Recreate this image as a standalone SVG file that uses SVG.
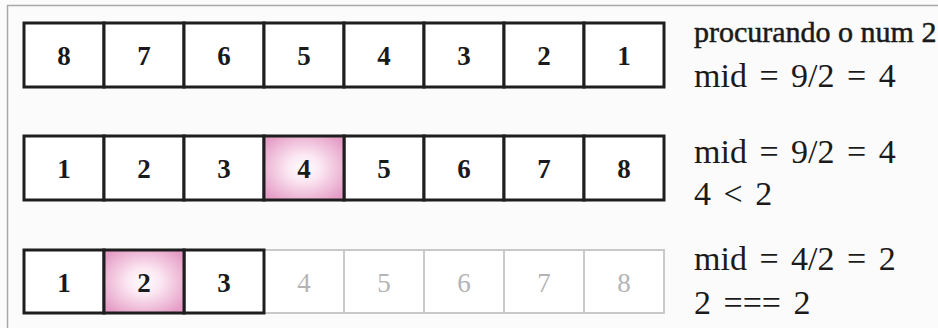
<svg xmlns="http://www.w3.org/2000/svg" width="938" height="328" viewBox="0 0 938 328">
<defs>
<radialGradient id="pink" cx="50%" cy="50%" r="62%">
<stop offset="0" stop-color="#ffffff"/>
<stop offset="0.35" stop-color="#fbe6f1"/>
<stop offset="1" stop-color="#e59cc6"/>
</radialGradient>
<style>
text{font-family:'Liberation Serif','Times New Roman',Times,serif}
.c{fill:#ffffff;stroke:#1e1e1e;stroke-width:3}
.h{fill:url(#pink);stroke:#1e1e1e;stroke-width:3}
.f{fill:#ffffff;stroke:#c9c9c9;stroke-width:2}
.n{font-size:27px;font-weight:bold;fill:#1a1a1a;text-anchor:middle}
.fn{font-size:27px;fill:#b4b4b4;text-anchor:middle}
.t{font-size:34px;fill:#1a1a1a;word-spacing:4px}
.p{font-size:30px;fill:#1a1a1a;stroke:#1a1a1a;stroke-width:0.5}
</style>
</defs>
<rect width="938" height="328" fill="#fbfbfb"/>
<path d="M7.5 328 V5.5 H938" fill="none" stroke="#a9a9a9" stroke-width="1.5"/>

<g id="row1">
<g id="r1c1"><rect class="c" x="24" y="23" width="80" height="64"/><text class="n" x="64" y="65">8</text></g>
<g id="r1c2"><rect class="c" x="104" y="23" width="80" height="64"/><text class="n" x="144" y="65">7</text></g>
<g id="r1c3"><rect class="c" x="184" y="23" width="80" height="64"/><text class="n" x="224" y="65">6</text></g>
<g id="r1c4"><rect class="c" x="264" y="23" width="80" height="64"/><text class="n" x="304" y="65">5</text></g>
<g id="r1c5"><rect class="c" x="344" y="23" width="80" height="64"/><text class="n" x="384" y="65">4</text></g>
<g id="r1c6"><rect class="c" x="424" y="23" width="80" height="64"/><text class="n" x="464" y="65">3</text></g>
<g id="r1c7"><rect class="c" x="504" y="23" width="80" height="64"/><text class="n" x="544" y="65">2</text></g>
<g id="r1c8"><rect class="c" x="584" y="23" width="80" height="64"/><text class="n" x="624" y="65">1</text></g>
<g id="r1label"><text class="p" x="694" y="42">procurando o num 2</text><text class="t" x="694" y="87">mid = 9/2 = 4</text></g>
</g>

<g id="row2">
<g id="r2c1"><rect class="c" x="24" y="136" width="80" height="64"/><text class="n" x="64" y="178">1</text></g>
<g id="r2c2"><rect class="c" x="104" y="136" width="80" height="64"/><text class="n" x="144" y="178">2</text></g>
<g id="r2c3"><rect class="c" x="184" y="136" width="80" height="64"/><text class="n" x="224" y="178">3</text></g>
<g id="r2c5"><rect class="c" x="344" y="136" width="80" height="64"/><text class="n" x="384" y="178">5</text></g>
<g id="r2c6"><rect class="c" x="424" y="136" width="80" height="64"/><text class="n" x="464" y="178">6</text></g>
<g id="r2c7"><rect class="c" x="504" y="136" width="80" height="64"/><text class="n" x="544" y="178">7</text></g>
<g id="r2c8"><rect class="c" x="584" y="136" width="80" height="64"/><text class="n" x="624" y="178">8</text></g>
<g id="r2c4"><rect class="h" x="264" y="136" width="80" height="64"/><text class="n" x="304" y="178">4</text></g>
<g id="r2label"><text class="t" x="694" y="163">mid = 9/2 = 4</text><text class="t" x="694" y="205">4 &lt; 2</text></g>
</g>

<g id="row3">
<g id="r3c4"><rect class="f" x="264" y="250" width="80" height="63"/><text class="fn" x="304" y="292">4</text></g>
<g id="r3c5"><rect class="f" x="344" y="250" width="80" height="63"/><text class="fn" x="384" y="292">5</text></g>
<g id="r3c6"><rect class="f" x="424" y="250" width="80" height="63"/><text class="fn" x="464" y="292">6</text></g>
<g id="r3c7"><rect class="f" x="504" y="250" width="80" height="63"/><text class="fn" x="544" y="292">7</text></g>
<g id="r3c8"><rect class="f" x="584" y="250" width="80" height="63"/><text class="fn" x="624" y="292">8</text></g>
<g id="r3c1"><rect class="c" x="24" y="250" width="80" height="63"/><text class="n" x="64" y="292">1</text></g>
<g id="r3c3"><rect class="c" x="184" y="250" width="80" height="63"/><text class="n" x="224" y="292">3</text></g>
<g id="r3c2"><rect class="h" x="104" y="250" width="80" height="63"/><text class="n" x="144" y="292">2</text></g>
<g id="r3label"><text class="t" x="694" y="270">mid = 4/2 = 2</text><text class="t" x="694" y="314">2 === 2</text></g>
</g>
<g id="connectors"/>
</svg>
